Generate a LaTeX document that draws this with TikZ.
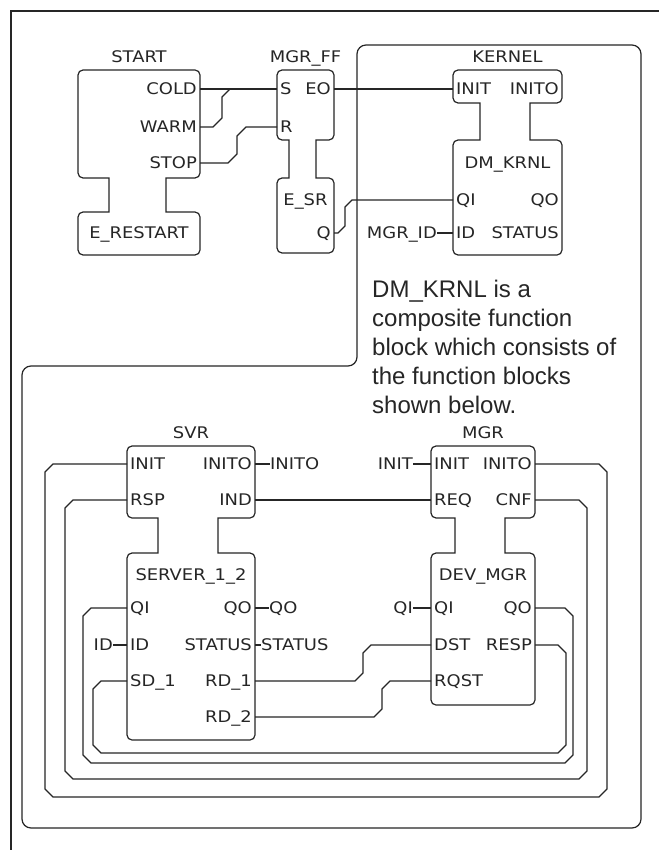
\documentclass[tikz,border=0pt]{standalone}
\usepackage{fontspec}
\usepackage{tikz}
\usetikzlibrary{positioning,calc}
\definecolor{scanink}{RGB}{38,38,38}
\newfontfamily\plotfont[FakeStretch=1.12]{DejaVu Sans}
\newfontfamily\notefont{Liberation Sans}
\newcommand{\lblfont}{\plotfont\fontsize{16pt}{18pt}\selectfont}
\newcommand{\notesize}{\notefont\fontsize{24pt}{29pt}\selectfont}
% 功能块外形: 左, 右, 顶, 事件区底, 颈左, 颈右, 数据区顶, 底
\newcommand{\fbshape}[8]{%
  \draw[fbline] (#1,#3) [rounded corners=5pt] -- (#2,#3) -- (#2,#4)
    [sharp corners] -- (#6,#4) -- (#6,#7)
    [rounded corners=5pt] -- (#2,#7) -- (#2,#8) -- (#1,#8) -- (#1,#7)
    [sharp corners] -- (#5,#7) -- (#5,#4)
    [rounded corners=5pt] -- (#1,#4) -- cycle;}

\begin{document}
\begin{tikzpicture}[x=1pt,y=-1pt,
  fbline/.style={draw=scanink,line width=1.2pt},
  wire/.style={draw=scanink,line width=1.1pt},
  lbl/.style={font=\lblfont,text=scanink,inner sep=0pt,text height=11.7pt,text depth=0pt},
  inport/.style={lbl,anchor=west,inner xsep=3pt},
  outport/.style={lbl,anchor=east,inner xsep=3pt},
  note/.style={font=\notesize,text=scanink,align=left,inner sep=0pt}]
  \useasboundingbox[fill=white] (0,0) rectangle (659,850);
  % 外框与 KERNEL 边界
  \draw[fbline] (11,850) -- (11,11) -- (659,11);
  \draw[fbline,rounded corners=9pt] (357,45) -- (641,45) -- (641,828) -- (22,828) -- (22,366) -- (357,366) -- cycle;
  % 功能块
  \fbshape{78}{200}{70}{178}{109}{166}{212}{255}
  \fbshape{277}{334}{70}{140}{289}{316}{178}{253}
  \fbshape{453}{562}{70}{103}{480}{530}{140}{255}
  \fbshape{127}{255}{446}{518}{158}{218}{553}{740}
  \fbshape{431}{535}{446}{518}{455}{505}{553}{705}
  % 实例名与类型名
  \node[lbl] (t-start) at (139,57) {START};
  \node[lbl] (t-ff) at (305.5,57) {MGR\_FF};
  \node[lbl] (t-kernel) at (507.5,57) {KERNEL};
  \node[lbl] (t-svr) at (191,433) {SVR};
  \node[lbl] (t-mgr) at (483,433) {MGR};
  \node[lbl] (ty-start) at (139,233) {E\_RESTART};
  \node[lbl] (ty-ff) at (305.5,200) {E\_SR};
  \node[lbl] (ty-krnl) at (507.5,163) {DM\_KRNL};
  \node[lbl] (ty-svr) at (191,575) {SERVER\_1\_2};
  \node[lbl] (ty-mgr) at (483,575) {DEV\_MGR};
  % START
  \node[outport] (start-cold) at (200,89) {COLD};
  \node[outport] (start-warm) at (200,127) {WARM};
  \node[outport] (start-stop) at (200,163) {STOP};
  % MGR_FF
  \node[inport] (ff-s) at (277,89) {S};
  \node[inport] (ff-r) at (277,127) {R};
  \node[outport] (ff-eo) at (334,89) {EO};
  \node[outport] (ff-q) at (334,233) {Q};
  % KERNEL
  \node[inport] (krnl-init) at (453,89) {INIT};
  \node[inport] (krnl-qi) at (453,200) {QI};
  \node[inport] (krnl-id) at (453,233) {ID};
  \node[outport] (krnl-inito) at (562,89) {INITO};
  \node[outport] (krnl-qo) at (562,200) {QO};
  \node[outport] (krnl-status) at (562,233) {STATUS};
  \node[lbl,left=16pt of krnl-id] (x-mgrid) {MGR\_ID};
  % SVR
  \node[inport] (svr-init) at (127,464) {INIT};
  \node[inport] (svr-rsp) at (127,500) {RSP};
  \node[inport] (svr-qi) at (127,608) {QI};
  \node[inport] (svr-id) at (127,645) {ID};
  \node[inport] (svr-sd1) at (127,681) {SD\_1};
  \node[outport] (svr-inito) at (255,464) {INITO};
  \node[outport] (svr-ind) at (255,500) {IND};
  \node[outport] (svr-qo) at (255,608) {QO};
  \node[outport] (svr-status) at (255,645) {STATUS};
  \node[outport] (svr-rd1) at (255,681) {RD\_1};
  \node[outport] (svr-rd2) at (255,717) {RD\_2};
  \node[lbl,right=15pt of svr-inito] (x-inito) {INITO};
  \node[lbl,right=14pt of svr-qo] (x-qo) {QO};
  \node[lbl,right=6pt of svr-status] (x-status) {STATUS};
  \node[lbl,left=14pt of svr-id] (x-id) {ID};
  % MGR
  \node[inport] (mgr-init) at (431,464) {INIT};
  \node[inport] (mgr-req) at (431,500) {REQ};
  \node[inport] (mgr-qi) at (431,608) {QI};
  \node[inport] (mgr-dst) at (431,645) {DST};
  \node[inport] (mgr-rqst) at (431,681) {RQST};
  \node[outport] (mgr-inito) at (535,464) {INITO};
  \node[outport] (mgr-cnf) at (535,500) {CNF};
  \node[outport] (mgr-qo) at (535,608) {QO};
  \node[outport] (mgr-resp) at (535,645) {RESP};
  \node[lbl,left=18pt of mgr-init] (x-init) {INIT};
  \node[lbl,left=18pt of mgr-qi] (x-qi) {QI};
  % 说明文字
  \node[note,anchor=north west] (note) at (372,280) {DM\_KRNL is a\\composite function\\block which consists of\\the function blocks\\shown below.};
  % 上层连线
  \coordinate (jn) at (230,89);
  \draw[wire] (start-cold.east) -- (ff-s.west);
  \draw[wire] (start-warm.east) -- (213,127) -- (222,118) -- (222,97) -- (jn);
  \draw[wire] (start-stop.east) -- (228,163) -- (237,154) -- (237,136) -- (246,127) -- (ff-r.west);
  \draw[wire] (ff-eo.east) -- (krnl-init.west);
  \draw[wire] (ff-q.east) -- (338,233) -- (345,226) -- (345,207) -- (352,200) -- (krnl-qi.west);
  \draw[wire] (x-mgrid.east) -- (krnl-id.west);
  % DM_KRNL 内部连线
  \draw[wire] (svr-ind.east) -- (mgr-req.west);
  \draw[wire] (svr-rd1.east) -- (355,681) -- (363,673) -- (363,653) -- (371,645) -- (mgr-dst.west);
  \draw[wire] (svr-rd2.east) -- (374,717) -- (382,709) -- (382,689) -- (390,681) -- (mgr-rqst.west);
  \draw[wire] (mgr-inito.east) -- (599,464) -- (607,472) -- (607,789) -- (599,797) -- (53,797) -- (45,789) -- (45,472) -- (53,464) -- (svr-init.west);
  \draw[wire] (mgr-cnf.east) -- (579,500) -- (587,508) -- (587,771) -- (579,779) -- (73,779) -- (65,771) -- (65,508) -- (73,500) -- (svr-rsp.west);
  \draw[wire] (mgr-qo.east) -- (565,608) -- (573,616) -- (573,755) -- (565,763) -- (91,763) -- (83,755) -- (83,616) -- (91,608) -- (svr-qi.west);
  \draw[wire] (mgr-resp.east) -- (558,645) -- (566,653) -- (566,745) -- (558,753) -- (101,753) -- (93,745) -- (93,689) -- (101,681) -- (svr-sd1.west);
  % 外部变量
  \draw[wire] (svr-inito.east) -- (x-inito.west);
  \draw[wire] (svr-qo.east) -- (x-qo.west);
  \draw[wire] (svr-status.east) -- (x-status.west);
  \draw[wire] (x-id.east) -- (svr-id.west);
  \draw[wire] (x-init.east) -- (mgr-init.west);
  \draw[wire] (x-qi.east) -- (mgr-qi.west);
\end{tikzpicture}
\end{document}
